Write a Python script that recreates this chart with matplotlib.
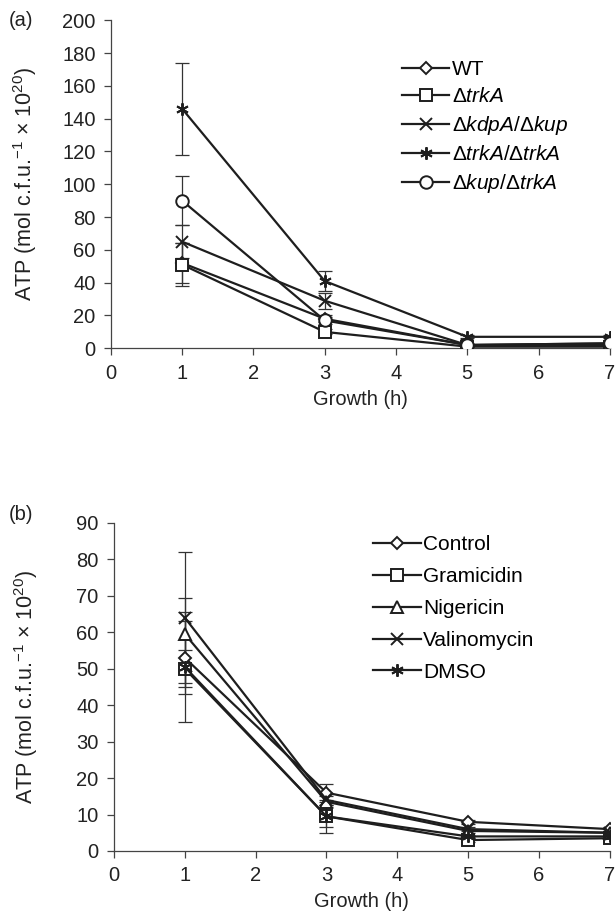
import matplotlib
matplotlib.use("Agg")
import matplotlib.pyplot as plt

plt.rcParams['font.family'] = ['Liberation Sans', 'DejaVu Sans']
plt.rcParams['mathtext.fontset'] = 'custom'
plt.rcParams['mathtext.rm'] = 'Liberation Sans'
plt.rcParams['mathtext.it'] = 'Liberation Sans:italic'
plt.rcParams['mathtext.bf'] = 'Liberation Sans:bold'

# growth time points (h)
hours = [1, 3, 5, 7]

# panel (a): strains
strains_a = ['WT', r'$\mathit{\Delta trkA}$', r'$\mathit{\Delta kdpA/\Delta kup}$',
             r'$\mathit{\Delta trkA/\Delta trkA}$', r'$\mathit{\Delta kup/\Delta trkA}$']
atp_a = [[52, 18, 2, 2],
         [51, 10, 1, 1],
         [65, 29, 2, 3],
         [146, 41, 7, 7],
         [90, 17, 2, 3]]
err_a = [[12, 2, 0.5, 0.5],
         [13, 1.5, 0.5, 0.5],
         [10, 5, 0.5, 0.5],
         [28, 6, 1, 1],
         [15, 2, 0.5, 0.5]]

# panel (b): treatments
treat_b = ['Control', 'Gramicidin', 'Nigericin', 'Valinomycin', 'DMSO']
atp_b = [[53, 16, 8, 6],
         [50, 9.5, 3, 3.5],
         [59.5, 13.5, 5.5, 5],
         [64, 14, 6, 5],
         [50.5, 9.5, 4, 4]]
err_b = [[10, 2.5, 0.5, 0.5],
         [5, 4.5, 0.5, 0.5],
         [10, 1.5, 0.5, 0.5],
         [18, 1.5, 0.5, 0.5],
         [15, 3, 0.5, 0.5]]

markers_a = ['D', 's', 'x', (6, 2, 0), 'o']
markers_b = ['D', 's', '^', 'x', (6, 2, 0)]
ink = '#1e1e1e'


def draw_panel(ax, labels, values, errors, markers, ymax, ystep):
    for lab, vals, errs, mk in zip(labels, values, errors, markers):
        # error bars first, then the line with its markers on top
        ax.errorbar(hours, vals, yerr=errs, fmt='none', ecolor='#333333',
                    elinewidth=0.9, capsize=5, capthick=0.9, zorder=2)
        ax.plot(hours, vals, color=ink, lw=1.6, marker=mk,
                markersize=9 if mk != 'D' else 6.5,
                markerfacecolor='white', markeredgecolor=ink,
                markeredgewidth=1.4, label=lab, zorder=3)
    ax.set_xlim(0, 7)
    ax.set_ylim(0, ymax)
    ax.set_xticks(range(0, 8))
    ax.set_yticks(range(0, ymax + 1, ystep))
    for side in ['top', 'right']:
        ax.spines[side].set_visible(False)
    for side in ['left', 'bottom']:
        ax.spines[side].set_color('#444444')
        ax.spines[side].set_linewidth(0.9)
    ax.tick_params(direction='out', length=5, width=0.9, color='#444444',
                   labelsize=14.5, labelcolor='#222222', pad=6)
    ax.set_xlabel('Growth (h)', fontsize=14.5, color='#222222', labelpad=5)
    ax.set_ylabel(r'ATP (mol c.f.u.$^{-1}$ $\times$ 10$^{20}$)', fontsize=15.5,
                  color='#222222')
    for spine in ax.spines.values():
        spine.set_clip_on(False)


fig = plt.figure(figsize=(6.16, 9.19), dpi=100)

ax_a = fig.add_axes([0.180, 0.621, 0.810, 0.357])
draw_panel(ax_a, strains_a, atp_a, err_a, markers_a, 200, 20)
ax_a.yaxis.set_label_coords(-0.145, 0.5)
ax_a.legend(loc='upper left', bbox_to_anchor=(0.545, 0.935), frameon=False,
            fontsize=15, handlelength=2.3, handletextpad=0.1,
            labelspacing=0.38)
fig.text(0.015, 0.978, '(a)', fontsize=14.5, color='#222222', va='center')

ax_b = fig.add_axes([0.185, 0.074, 0.805, 0.357])
draw_panel(ax_b, treat_b, atp_b, err_b, markers_b, 90, 10)
ax_b.yaxis.set_label_coords(-0.15, 0.5)
ax_b.legend(loc='upper left', bbox_to_anchor=(0.485, 1.02), frameon=False,
            fontsize=15, handlelength=2.3, handletextpad=0.1,
            labelspacing=0.62)
fig.text(0.015, 0.44, '(b)', fontsize=14.5, color='#222222', va='center')

fig.savefig('out.png', dpi=100)
